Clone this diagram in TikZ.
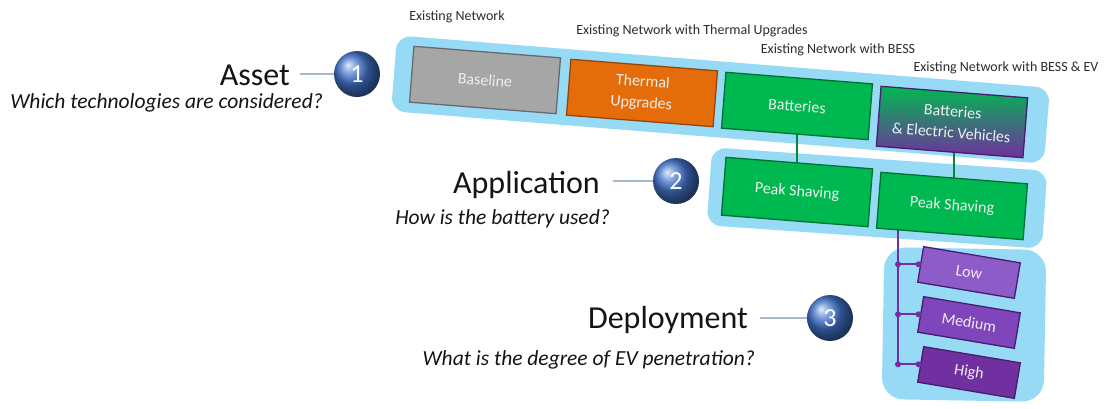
\documentclass[tikz,border=0pt]{standalone}
\usepackage{fontspec}
\setmainfont{Carlito}
\usetikzlibrary{calc}

\definecolor{bandblue}{RGB}{150,218,245}
\definecolor{grayfill}{RGB}{166,166,166}
\definecolor{grayline}{RGB}{105,105,115}
\definecolor{orangefill}{RGB}{228,108,10}
\definecolor{orangeline}{RGB}{150,70,10}
\definecolor{greenfill}{RGB}{0,184,80}
\definecolor{greenline}{RGB}{0,115,50}
\definecolor{purplefill}{RGB}{112,48,160}
\definecolor{purplelow}{RGB}{142,92,200}
\definecolor{purplemed}{RGB}{126,70,186}
\definecolor{purpleline}{RGB}{72,28,112}
\definecolor{sphereblue}{RGB}{66,116,205}
\definecolor{stemline}{RGB}{165,185,205}
\definecolor{captiongray}{RGB}{45,45,45}
\definecolor{boxtext}{RGB}{238,238,238}
\definecolor{textdark}{RGB}{20,20,20}

\pgfdeclarelayer{paper}
\pgfdeclarelayer{bands}
\pgfdeclarelayer{links}
\pgfsetlayers{paper,bands,links,main}

\tikzset{
  band/.style={fill=bandblue, rounded corners=14pt, inner sep=0pt},
  box/.style={draw, line width=1.3pt, minimum width=147pt, minimum height=56pt,
    rotate=-4.5, align=center, inner sep=0pt, text=boxtext,
    font=\fontsize{16}{21}\selectfont},
  smallbox/.style={box, minimum width=98pt, minimum height=36pt, rotate=-5},
  sphere/.style={circle, minimum size=46pt, inner sep=0pt, shading=ball,
    ball color=sphereblue, text=white, font=\fontsize{26}{26}\selectfont},
  heading/.style={anchor=base east, text=textdark, inner sep=0pt,
    font=\fontsize{32}{32}\selectfont},
  question/.style={anchor=base east, text=textdark, inner sep=0pt,
    font=\fontsize{21.5}{21.5}\selectfont\itshape},
  caption/.style={text=captiongray, inner sep=0pt,
    font=\fontsize{14}{14}\selectfont},
  stem/.style={draw=stemline, line width=2.5pt},
  link/.style={draw=greenline!70!greenfill, line width=2pt},
  tree/.style={draw=purplefill, line width=2pt},
  dot/.style={circle, fill=purplefill, inner sep=0pt, minimum size=6pt}
}

\begin{document}
\begin{tikzpicture}[x=1pt,y=-1pt]
\useasboundingbox (0,0) rectangle (1104,408);
\begin{pgfonlayer}{paper}
  \fill[white] (0,0) rectangle (1104,408);
\end{pgfonlayer}

% light blue bands grouping each level
\begin{pgfonlayer}{bands}
  \node[band, minimum width=655pt, minimum height=76pt, rotate=-4.6] (assetband) at (720.5,99.5) {};
  \node[band, minimum width=336pt, minimum height=78pt, rotate=-4] (appband) at (877,198) {};
  \node[band, minimum width=162pt, minimum height=152pt, rounded corners=22pt, rotate=-1] (depband) at (964,324.5) {};
\end{pgfonlayer}

% scenario captions
\node[caption] (cap1) at (457,17) {Existing Network};
\node[caption] (cap2) at (692,31) {Existing Network with Thermal Upgrades};
\node[caption] (cap3) at (838,50) {Existing Network with BESS};
\node[caption] (cap4) at (1006,68) {Existing Network with BESS \& EV};

% asset level
\node[box, fill=grayfill, draw=grayline] (base) at (485,80) {Baseline};
\node[box, fill=orangefill, draw=orangeline] (therm) at (642,93) {Thermal\\Upgrades};
\node[box, fill=greenfill, draw=greenline] (batt) at (797,106) {Batteries};
\node[box, draw=purpleline, top color=greenfill, middle color=greenfill!55!purplefill,
      bottom color=purplefill, minimum height=60pt] (bev) at (952,122) {Batteries\\\& Electric Vehicles};

% application level
\node[box, fill=greenfill, draw=greenline, minimum height=58pt] (ps1) at (797,192) {Peak Shaving};
\node[box, fill=greenfill, draw=greenline] (ps2) at (952,206) {Peak Shaving};

% deployment level
\node[smallbox, fill=purplelow, draw=purpleline] (low) at (969,272.5) {Low};
\node[smallbox, fill=purplemed, draw=purpleline] (med) at (969,322.5) {Medium};
\node[smallbox, fill=purplefill, draw=purpleline] (high) at (969,372.5) {High};

% links between levels (vertical, tucked under the boxes)
\begin{pgfonlayer}{links}
  \draw[link] (batt.center) -- (batt.center |- ps1.center);
  \draw[link] ([xshift=2pt]bev.center) -- ([xshift=2pt]bev.center |- ps2.center);
  \coordinate (split) at ($(ps2.south west)!0.15!(ps2.south east)$);
  \draw[tree] (split |- ps2.center) -- (split |- high.west) -- (high.west);
  \draw[tree] (split |- low.west) -- (low.west);
  \draw[tree] (split |- med.west) -- (med.west);
\end{pgfonlayer}
\foreach \b in {low,med,high}{
  \node[dot] at (split |- \b.west) {};
  \node[dot, xshift=-1.5pt] at (\b.west) {};
}

% level headings with numbered markers
\node[heading] (asset) at (290,85) {Asset};
\node[question] (assetq) at (323,108) {Which technologies are considered?};
\node[sphere] (c1) at (357,74) {1};
\draw[stem] ([xshift=10pt]asset.east |- c1.west) -- (c1.west);

\node[heading] (app) at (600,193) {Application};
\node[question] (appq) at (610,224) {How is the battery used?};
\node[sphere] (c2) at (676,181) {2};
\draw[stem] ([xshift=13pt]app.east |- c2.west) -- (c2.west);

\node[heading] (dep) at (748,328) {Deployment};
\node[question] (depq) at (755,365) {What is the degree of EV penetration?};
\node[sphere] (c3) at (830,318) {3};
\draw[stem] ([xshift=12pt]dep.east |- c3.west) -- (c3.west);
\end{tikzpicture}
\end{document}
